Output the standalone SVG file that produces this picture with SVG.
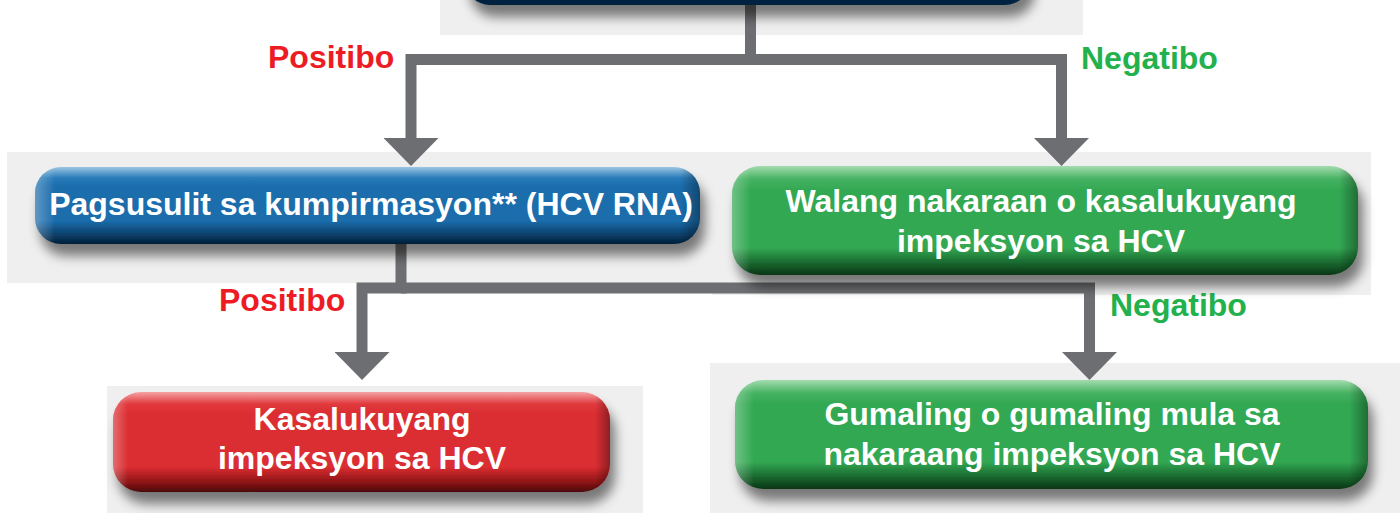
<svg xmlns="http://www.w3.org/2000/svg" width="1400" height="513" viewBox="0 0 1400 513">
<defs>
<style>
.bd{fill:#efefef}
.conn{fill:none;stroke:#6d6e71;stroke-width:11;stroke-linejoin:miter}
.lbl{font-family:"Liberation Sans",Arial,sans-serif;font-weight:bold;font-size:32px}
.pos{fill:#ed1c24}
.neg{fill:#22b14c}
.nt{font-family:"Liberation Sans",Arial,sans-serif;font-weight:bold;font-size:32px;fill:#ffffff;text-anchor:middle}
.node{filter:url(#sh)}
</style>
<filter id="sh" x="-10%" y="-30%" width="125%" height="170%">
<feGaussianBlur in="SourceAlpha" stdDeviation="6"/>
<feOffset dx="5" dy="12" result="b"/>
<feComponentTransfer><feFuncA type="linear" slope="0.5"/></feComponentTransfer>
<feMerge><feMergeNode/><feMergeNode in="SourceGraphic"/></feMerge>
</filter>
<linearGradient id="gBlue" x1="0" y1="0" x2="0" y2="1">
<stop offset="0" stop-color="#9cc6e4"/>
<stop offset="0.14" stop-color="#2a7cba"/>
<stop offset="0.25" stop-color="#1a6dac"/>
<stop offset="0.7" stop-color="#1a6dac"/>
<stop offset="0.88" stop-color="#0b3f6a"/>
<stop offset="1" stop-color="#011e36"/>
</linearGradient>
<linearGradient id="gRed" x1="0" y1="0" x2="0" y2="1">
<stop offset="0" stop-color="#f4a3a5"/>
<stop offset="0.12" stop-color="#e0393d"/>
<stop offset="0.22" stop-color="#db2d31"/>
<stop offset="0.75" stop-color="#db2d31"/>
<stop offset="0.9" stop-color="#8e1416"/>
<stop offset="1" stop-color="#4a0607"/>
</linearGradient>
<linearGradient id="gGreen" x1="0" y1="0" x2="0" y2="1">
<stop offset="0" stop-color="#a3dcae"/>
<stop offset="0.12" stop-color="#45b262"/>
<stop offset="0.22" stop-color="#33a853"/>
<stop offset="0.75" stop-color="#33a853"/>
<stop offset="0.9" stop-color="#17632c"/>
<stop offset="1" stop-color="#0a3516"/>
</linearGradient>
<linearGradient id="gNavy" x1="0" y1="0" x2="0" y2="1">
<stop offset="0" stop-color="#0b3e6a"/>
<stop offset="1" stop-color="#01223e"/>
</linearGradient>
<linearGradient id="gEdge" x1="0" y1="0" x2="1" y2="0">
<stop offset="0" stop-color="#ffffff" stop-opacity="0.3"/>
<stop offset="0.03" stop-color="#ffffff" stop-opacity="0"/>
<stop offset="0.97" stop-color="#000000" stop-opacity="0"/>
<stop offset="1" stop-color="#000000" stop-opacity="0.35"/>
</linearGradient>
<marker id="ah" markerUnits="userSpaceOnUse" viewBox="0 0 28 55" markerWidth="28" markerHeight="55" refX="0" refY="27.5" orient="auto">
<path d="M0,0 L28,27.5 L0,55 Z" fill="#6d6e71"/>
</marker>
</defs>

<g id="backdrops">
<rect class="bd" x="440" y="0" width="643" height="35"/>
<rect class="bd" x="7" y="152" width="705" height="131"/>
<rect class="bd" x="712" y="152" width="659" height="143"/>
<rect class="bd" x="107" y="386" width="536" height="127"/>
<rect class="bd" x="710" y="363" width="690" height="150"/>
</g>

<g id="connectors">
<path class="conn" d="M750.5,0 V59.5 H411 V138" marker-end="url(#ah)"/>
<path class="conn" d="M750.5,59.5 H1061.5 V138" marker-end="url(#ah)"/>
<path class="conn" d="M401,243 V288 H362 V352" marker-end="url(#ah)"/>
<path class="conn" d="M401,288 H1089.5 V352" marker-end="url(#ah)"/>
<text class="lbl pos" x="268" y="68">Positibo</text>
<text class="lbl neg" x="1081" y="69">Negatibo</text>
<text class="lbl pos" x="219" y="311">Positibo</text>
<text class="lbl neg" x="1110" y="316">Negatibo</text>
</g>

<g id="node-top">
<rect class="node" x="465" y="-70" width="565" height="75" rx="25" fill="url(#gNavy)"/>
</g>

<g id="node-confirm">
<rect class="node" x="35" y="167" width="665" height="77" rx="26" fill="url(#gBlue)"/>
<rect x="35" y="167" width="665" height="77" rx="26" fill="url(#gEdge)"/>
<text class="nt" x="371" y="215">Pagsusulit sa kumpirmasyon** (HCV RNA)</text>
</g>

<g id="node-no-infection">
<rect class="node" x="732" y="166" width="626" height="109" rx="28" fill="url(#gGreen)"/>
<rect x="732" y="166" width="626" height="109" rx="28" fill="url(#gEdge)"/>
<text class="nt" x="1041" y="212">Walang nakaraan o kasalukuyang</text>
<text class="nt" x="1041" y="252">impeksyon sa HCV</text>
</g>

<g id="node-current">
<rect class="node" x="113" y="392" width="497" height="100" rx="28" fill="url(#gRed)"/>
<rect x="113" y="392" width="497" height="100" rx="28" fill="url(#gEdge)"/>
<text class="nt" x="362" y="430">Kasalukuyang</text>
<text class="nt" x="362" y="469">impeksyon sa HCV</text>
</g>

<g id="node-cured">
<rect class="node" x="735" y="380" width="633" height="109" rx="28" fill="url(#gGreen)"/>
<rect x="735" y="380" width="633" height="109" rx="28" fill="url(#gEdge)"/>
<text class="nt" x="1052" y="425">Gumaling o gumaling mula sa</text>
<text class="nt" x="1052" y="465">nakaraang impeksyon sa HCV</text>
</g>
</svg>
